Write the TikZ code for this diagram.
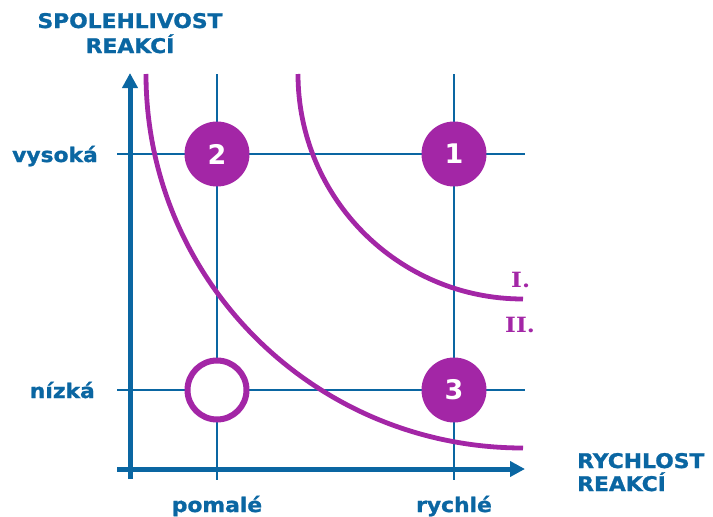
\documentclass[tikz,border=0pt]{standalone}
\usepackage{fontspec}
\usetikzlibrary{arrows.meta}
\newfontfamily\lblfont{DejaVu Sans}[FakeStretch=1.08, FakeBold=1.2]
\newfontfamily\numfont{DejaVu Sans}
\newfontfamily\romfont{DejaVu Serif}[FakeStretch=1.1]
\definecolor{axisblue}{HTML}{0A66A2}
\definecolor{zonepurple}{HTML}{A326A6}
\tikzset{
  axisline/.style={line width=5pt, draw=axisblue, -{Triangle[length=15pt,width=15pt]}},
  gridline/.style={line width=2.8pt, draw=axisblue},
  curve/.style={line width=4.8pt, draw=zonepurple},
  ball/.style={circle, fill=zonepurple, minimum size=65pt, inner sep=0pt, text=white,
    font=\numfont\bfseries\fontsize{27}{27}\selectfont},
  hollow/.style={circle, draw=zonepurple, line width=6pt, fill=white, minimum size=59pt, inner sep=0pt},
  lab/.style={text=axisblue, inner sep=0pt, font=\lblfont\bfseries\fontsize{20.2}{22}\selectfont},
  roman/.style={text=zonepurple, inner sep=0pt, font=\romfont\bfseries\fontsize{21}{22}\selectfont},
}
\begin{document}
\begin{tikzpicture}[x=1pt, y=-1pt]
  \useasboundingbox (0,0) rectangle (713,517);

  % grid ends
  \coordinate (hiL) at (117,154);  \coordinate (hiR) at (525,154);
  \coordinate (loL) at (117,390);  \coordinate (loR) at (525,390);
  \coordinate (slT) at (217,74);   \coordinate (slB) at (217,480);
  \coordinate (fsT) at (454,74);   \coordinate (fsB) at (454,480);

  \draw[gridline] (hiL) -- (hiR);
  \draw[gridline] (loL) -- (loR);
  \draw[gridline] (slT) -- (slB);
  \draw[gridline] (fsT) -- (fsB);

  % axes
  \coordinate (yB) at (130,479);  \coordinate (yT) at (130,73);
  \coordinate (xL) at (117,469);  \coordinate (xR) at (525,469);
  \draw[axisline] (yB) -- (yT);
  \draw[axisline] (xL) -- (xR);

  % iso-curves
  \draw[curve] (298,74) arc[start angle=180, end angle=90, radius=225];
  \draw[curve] (146,74) arc[start angle=180, end angle=90, x radius=377, y radius=374];

  % quadrant markers
  \node[ball] (q2) at (217,154) {2};
  \node[ball] (q1) at (454,154) {1};
  \node[ball] (q3) at (454,390) {3};
  \node[hollow] (q4) at (217,390) {};

  % curve labels
  \node[roman, anchor=base west] (cI) at (511,287) {I.};
  \node[roman, anchor=base west] (cII) at (505,332) {II.};

  % axis titles
  \node[lab, anchor=base] (yt1) at (130,28) {SPOLEHLIVOST};
  \node[lab, anchor=base] (yt2) at (130,53) {REAKCÍ};
  \node[lab, anchor=base west] (xt1) at (577,468) {RYCHLOST};
  \node[lab, anchor=base west] (xt2) at (577,491) {REAKCÍ};

  % tick labels
  \node[lab, anchor=base east] (vys) at (98,162) {vysoká};
  \node[lab, anchor=base east] (niz) at (95,398) {nízká};
  \node[lab, anchor=base] (pom) at (217,512) {pomalé};
  \node[lab, anchor=base] (rych) at (454,512) {rychlé};
\end{tikzpicture}
\end{document}
